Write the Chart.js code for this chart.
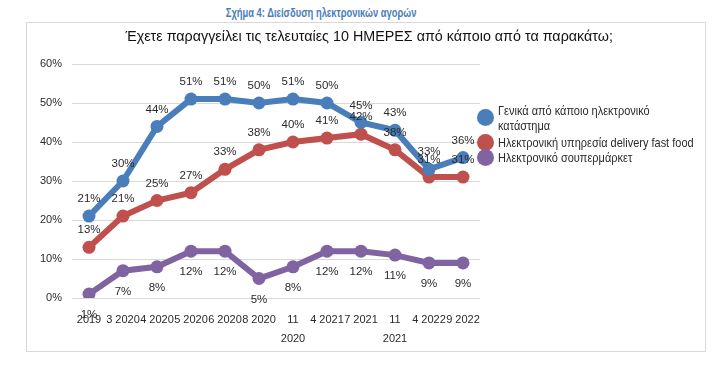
<!DOCTYPE html>
<html>
<head>
<meta charset="utf-8">
<script src="https://cdn.jsdelivr.net/npm/chart.js@4/dist/chart.umd.min.js"></script>
<style>
  body { margin: 0; background: #fff; width: 728px; height: 368px; position: relative; overflow: hidden;
         font-family: "Liberation Sans", Arial, sans-serif; }
  #caption { position: absolute; top: 3px; left: 0; width: 643px; text-align: center; }
  #caption span { display: inline-block; transform: scaleX(0.75); color: #4a7ebb; font-weight: bold; font-size: 12.5px; }
  #frame { position: absolute; left: 26px; top: 22px; width: 678px; height: 328px; border: 1px solid #d9d9d9; }
  #question { position: absolute; left: 0; top: 4px; width: 684px; text-align: center; }
  #question span { display: inline-block; transform: scaleX(0.955); font-size: 15px; color: #111; }
  #chartBox { position: absolute; left: 0; top: 0; width: 678px; height: 328px; }
  .legend-dot { position: absolute; left: 450px; width: 17px; height: 17px; border-radius: 50%; }
  .legend-text { position: absolute; left: 471px; white-space: nowrap; font-size: 13px; color: #2b2b2b;
                 line-height: 15px; transform: scaleX(0.845); transform-origin: left center; }
</style>
</head>
<body>
<div id="caption"><span>Σχήμα 4: Διείσδυση ηλεκτρονικών αγορών</span></div>
<div id="frame">
  <div id="chartBox"><canvas id="chart"></canvas></div>
  <div id="question"><span>Έχετε παραγγείλει τις τελευταίες 10 ΗΜΕΡΕΣ από κάποιο από τα παρακάτω;</span></div>
  <div id="legend"></div>
</div>
<script>
const periods = ["2019", "3 2020", "4 2020", "5 2020", "6 2020", "8 2020", ["11", "2020"], "4 2021", "7 2021", ["11", "2021"], "4 2022", "9 2022"];
const seriesNames = ["Γενικά από κάποιο ηλεκτρονικό κατάστημα", "Ηλεκτρονική υπηρεσία delivery fast food", "Ηλεκτρονικό σουπερμάρκετ"];
const onlineStore = [21, 30, 44, 51, 51, 50, 51, 50, 45, 43, 33, 36];
const fastFood = [13, 21, 25, 27, 33, 38, 40, 41, 42, 38, 31, 31];
const supermarket = [1, 7, 8, 12, 12, 5, 8, 12, 12, 11, 9, 9];
const yTicks = [0, 10, 20, 30, 40, 50, 60];
const colors = ["#4a7ebb", "#c0504d", "#8064a2"];
const labelOffsets = [-17, -17, 21];

const FONT = "'Liberation Sans', Arial, sans-serif";
const TEXT = "#2b2b2b";

const valueLabels = {
  id: "valueLabels",
  afterDatasetsDraw(chart) {
    const ctx = chart.ctx;
    ctx.save();
    ctx.font = `11.5px ${FONT}`;
    ctx.fillStyle = TEXT;
    ctx.textAlign = "center";
    ctx.textBaseline = "middle";
    chart.data.datasets.forEach((ds, i) => {
      chart.getDatasetMeta(i).data.forEach((pt, j) => {
        ctx.fillText(`${ds.data[j]}%`, pt.x, pt.y + labelOffsets[i]);
      });
    });
    ctx.restore();
  },
};

function renderLegend() {
  // legend rows, in frame coordinates
  const dotCenters = [94, 119, 134];
  const textTops = [80, 112, 127];
  const names = ["Γενικά από κάποιο ηλεκτρονικό<br>κατάστημα", seriesNames[1], seriesNames[2]];
  document.getElementById("legend").innerHTML = names
    .map((name, i) => `
      <span class="legend-dot" style="background:${colors[i]};top:${dotCenters[i] - 8.5}px"></span>
      <span class="legend-text" style="top:${textTops[i]}px">${name}</span>`)
    .join("");
}

function makeDataset(label, data, color) {
  return {
    label,
    data,
    borderColor: color,
    backgroundColor: color,
    borderWidth: 6,
    pointRadius: 6.5,
    pointHoverRadius: 6.5,
    pointBorderWidth: 0,
    tension: 0,
  };
}

document.addEventListener("DOMContentLoaded", () => {
  renderLegend();
  new Chart(document.getElementById("chart"), {
    type: "line",
    data: {
      labels: periods,
      datasets: [
        makeDataset(seriesNames[0], onlineStore, colors[0]),
        makeDataset(seriesNames[1], fastFood, colors[1]),
        makeDataset(seriesNames[2], supermarket, colors[2]),
      ],
    },
    options: {
      responsive: true,
      maintainAspectRatio: false,
      animation: false,
      layout: { padding: { top: 41, right: 225, left: 0, bottom: 0 } },
      plugins: { legend: { display: false }, tooltip: { enabled: false } },
      scales: {
        x: {
          offset: true,
          grid: { display: false, drawTicks: false },
          border: { display: false },
          ticks: { autoSkip: false, maxRotation: 0, minRotation: 0, padding: 12, color: TEXT,
                   font: { family: FONT, size: 11, lineHeight: 1.75 } },
          afterFit: (scale) => { scale.height = 53; },
        },
        y: {
          min: 0,
          max: 60,
          afterBuildTicks: (scale) => { scale.ticks = yTicks.map((v) => ({ value: v })); },
          grid: { color: "#d9d9d9", drawTicks: false, lineWidth: 1 },
          border: { display: false },
          ticks: { padding: 10, color: TEXT, font: { family: FONT, size: 11 },
                   callback: (value) => `${value}%` },
          afterFit: (scale) => { scale.width = 45; },
        },
      },
    },
    plugins: [valueLabels],
  });
});
</script>
</body>
</html>
